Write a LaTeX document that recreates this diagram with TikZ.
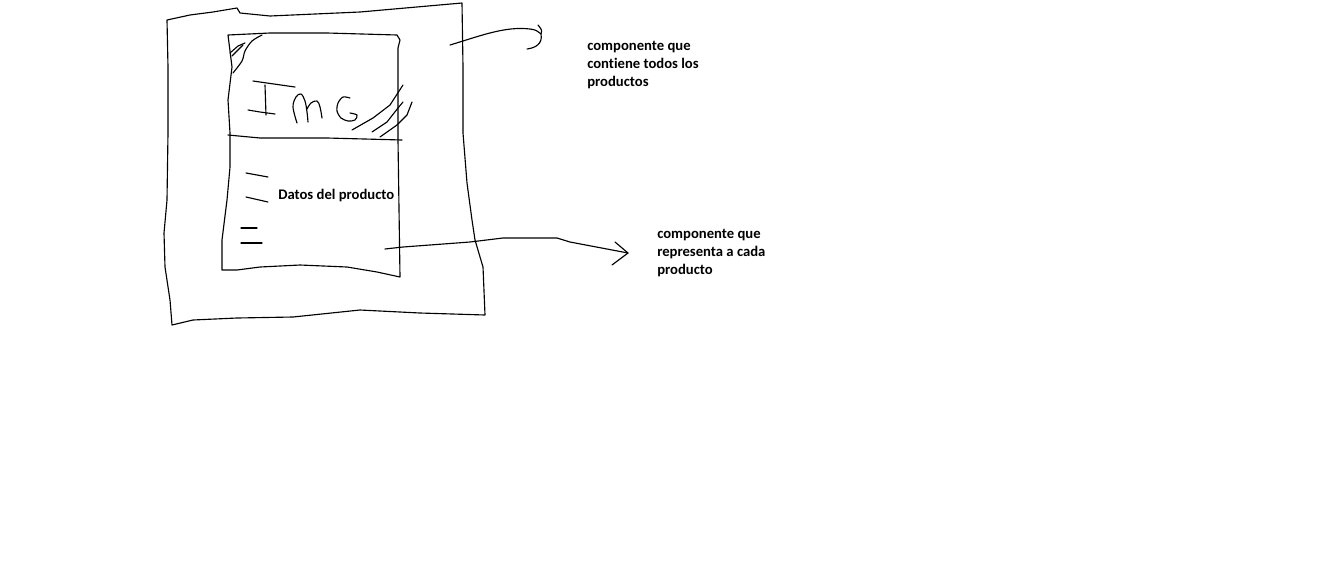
\documentclass[tikz,border=0pt]{standalone}
\usepackage{fontspec}
\setmainfont[Ligatures={NoCommon}]{Carlito}
\begin{document}
\begin{tikzpicture}[x=0.75pt,y=-0.75pt,
  sketch/.style={draw=black,line width=0.85pt,line join=round,line cap=round},
  label/.style={font=\bfseries\fontsize{11pt}{13.5pt}\selectfont,align=left,inner sep=0pt,anchor=north west}]
\useasboundingbox[fill=white] (0,0) rectangle (1334,572);
% outer box
\draw[sketch] (167,20) -- (190,15) -- (213,12) -- (237,8) -- (240,13) -- (270,16) -- (360,12) -- (462,3)
  -- (463,67) -- (463,133) -- (467,183) -- (472,220) -- (475,240) -- (483,267) -- (485,315)
  -- (420,313) -- (360,310) -- (293,317) -- (237,318) -- (193,320) -- (172,325)
  -- (170,300) -- (165,267) -- (164,233) -- (167,200) -- (168,133) -- (168,67) -- cycle;
% inner box
\draw[sketch] (228,35) -- (270,33) -- (327,33) -- (397,35) -- (400,40) -- (398,48)
  -- (398,140) -- (400,277)
  -- (377,272) -- (347,267) -- (300,265) -- (260,267) -- (237,270) -- (222,270)
  -- (222,240) -- (227,200) -- (230,167) -- (230,133) -- (228,100) -- (232,67) -- cycle;
% divider
\draw[sketch] (228,135) -- (260,138) -- (327,138) -- (402,140);
% IMG letters
\draw[sketch] (253,81) -- (267,83) -- (295,87);
\draw[sketch] (265,85) -- (266,115);
\draw[sketch] (248,110) -- (260,112) -- (275,114);
\draw[sketch] plot[smooth,tension=0.6] coordinates {(297,123) (293,107) (296,97) (301,94) (305,101) (307,112) (308,122)};
\draw[sketch] plot[smooth,tension=0.6] coordinates {(307,109) (311,103) (317,101) (320,107) (322,118)};
\draw[sketch] plot[smooth,tension=0.5] coordinates {(350,98) (343,97) (338,103) (337,111) (341,118) (348,121) (355,120) (357,115) (350,113)};
% hatching
\draw[sketch] (352,130) -- (373,118) -- (390,105) -- (403,85);
\draw[sketch] (372,132) -- (387,122) -- (398,108) -- (403,102);
\draw[sketch] (380,137) -- (397,125) -- (407,115) -- (412,102);
% corner scribble
\draw[sketch] (230,53) -- (238,46) -- (245,43);
\draw[sketch] (232,56) -- (237,51) -- (243,45);
\draw[sketch] plot[smooth] coordinates {(262,35) (252,41) (245,51) (242,61) (233,73)};
% dashes
\draw[sketch] (246,173) -- (268,177);
\draw[sketch] (246,197) -- (268,202);
\draw[sketch] (241,228) -- (257,228);
\draw[sketch] (241,243) -- (262,243);
% texts
\node[label,anchor=west] (datos) at (278,196) {Datos del producto};
\node[label] (t1) at (587,41) {componente que\\contiene todos los\\productos};
\node[label] (t2) at (657,229) {componente que\\representa a cada\\producto};
% arrows
\coordinate (a1s) at (450,45);
\coordinate (a1e) at (541,34);
\coordinate (a2s) at (385,249);
\coordinate (a2e) at (628,253);
\draw[sketch] (a1s) .. controls (480,36) and (505,26) .. (530,29) .. controls (536,30) .. (a1e);
\draw[sketch] (538,25) .. controls (542,30) .. (a1e) .. controls (543,44) and (535,48) .. (527,49);
\draw[sketch] (a2s) -- (403,247) -- (470,242) -- (503,238) -- (557,238) -- (570,242) -- (a2e);
\draw[sketch] (615,242) -- (a2e) -- (612,265);
\end{tikzpicture}
\end{document}
